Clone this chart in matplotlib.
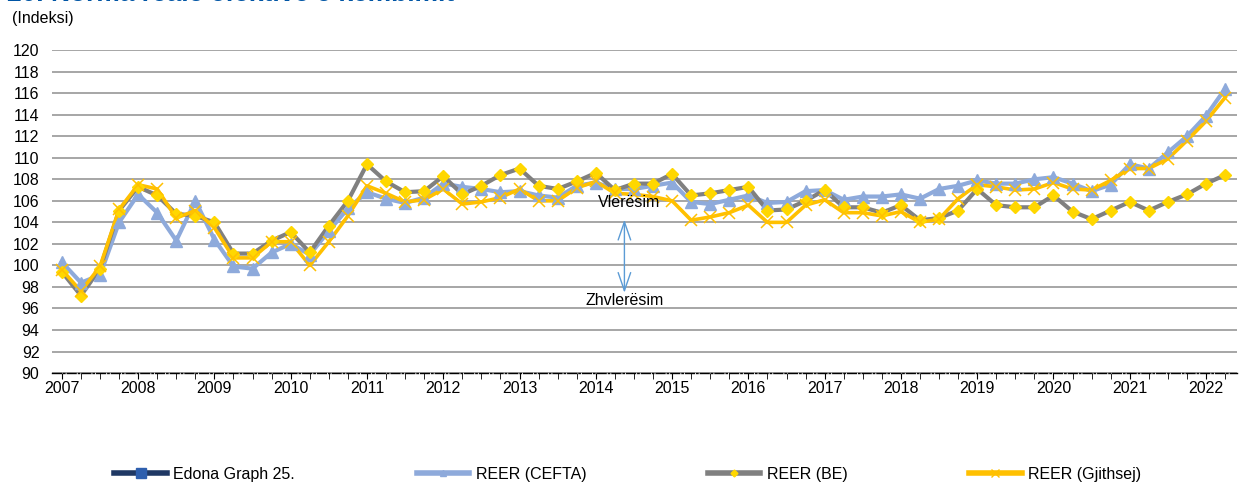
import matplotlib.pyplot as plt
from matplotlib.lines import Line2D

plt.rcParams['font.family'] = ['Liberation Sans', 'DejaVu Sans']

# tremujoret 2007T1 - 2022T2
vitet = [str(v) for v in range(2007, 2023)]

reer_cefta = [100.3, 98.4, 99.1, 104.0, 106.6, 104.9, 102.3, 106.0, 102.4, 99.9, 99.7, 101.2,
              102.0, 101.0, 103.2, 105.3, 106.8, 106.2, 105.8, 106.3, 107.6, 107.3, 107.1, 106.8,
              106.9, 106.5, 106.3, 107.4, 107.7, 107.1, 107.1, 107.4, 107.7, 105.9, 105.7, 106.1,
              106.5, 105.8, 105.9, 106.9, 107.0, 106.1, 106.4, 106.4, 106.6, 106.2, 107.1, 107.4,
              107.9, 107.6, 107.6, 108.0, 108.2, 107.6, 106.9, 107.5, 109.4, 109.0, 110.5, 112.0,
              113.9, 116.4]
reer_be = [99.4, 97.2, 99.7, 105.1, 107.3, 106.5, 104.8, 104.6, 104.0, 101.1, 101.1, 102.3,
           103.1, 101.2, 103.7, 106.0, 109.4, 107.8, 106.8, 106.9, 108.3, 106.6, 107.4, 108.4,
           109.0, 107.4, 107.1, 107.8, 108.6, 107.0, 107.6, 107.6, 108.5, 106.5, 106.7, 107.0,
           107.3, 105.1, 105.2, 106.0, 107.0, 105.4, 105.4, 104.9, 105.6, 104.2, 104.4, 105.1,
           107.1, 105.6, 105.4, 105.4, 106.5, 105.0, 104.3, 105.1, 105.9, 105.1, 105.9, 106.6,
           107.6, 108.4]
reer_gjithsej = [99.6, 97.6, 99.9, 105.2, 107.5, 107.1, 104.4, 105.1, 103.5, 100.7, 100.7, 102.2,
                 102.2, 100.0, 102.2, 104.6, 107.4, 106.7, 105.9, 106.1, 107.1, 105.7, 105.9, 106.3,
                 107.1, 106.0, 106.0, 107.2, 107.8, 106.7, 106.6, 106.4, 106.0, 104.2, 104.5, 104.9,
                 105.6, 104.0, 104.0, 105.6, 106.1, 104.9, 104.9, 104.6, 105.0, 104.0, 104.3, 106.2,
                 107.5, 107.3, 107.0, 107.1, 107.7, 107.1, 107.0, 107.9, 109.0, 109.0, 109.9, 111.6,
                 113.4, 115.6]

x = list(range(len(reer_cefta)))

fig = plt.figure(figsize=(12.43, 4.87), dpi=100)
ax = fig.add_axes([0.0418, 0.234, 0.953, 0.663])

# vijat
ax.plot(x, reer_cefta, color='#8eaadb', lw=3, zorder=2)
ax.plot(x, reer_be, color='#808080', lw=3, zorder=2)
ax.plot(x, reer_gjithsej, color='#ffc000', lw=2.6, zorder=2)
# shenjat
ax.plot(x, reer_cefta, ls='none', marker='^', ms=8, color='#8eaadb', zorder=3)
ax.plot(x, reer_be, ls='none', marker='D', ms=6.5, color='#ffd700', zorder=3)
ax.plot(x, reer_gjithsej, ls='none', marker='x', ms=8.5, mew=1.1, color='#ffc000', zorder=3)

ax.set_ylim(90, 120)
ax.set_xlim(-0.52, 61.6)
ax.set_yticks(range(90, 121, 2))
ax.set_xticks(range(0, len(x), 4))
ax.set_xticklabels(vitet)
ax.set_xticks(x, minor=True)
ax.grid(axis='y', color='#a6a6a6', lw=1.4)
ax.set_axisbelow(True)
for s in ['left', 'right', 'top']:
    ax.spines[s].set_visible(False)
ax.spines['bottom'].set_linestyle('-.')
ax.spines['bottom'].set_linewidth(1)
ax.tick_params(axis='y', length=0, labelsize=11.5, pad=9)
ax.tick_params(axis='x', which='both', length=4, labelsize=11.5, pad=2)

# shigjeta
ax.annotate('', xy=(29.5, 104.5), xytext=(29.5, 97.2),
            arrowprops=dict(arrowstyle='<->,head_length=1.3,head_width=0.45', color='#5b9bd5', lw=1))
ax.text(29.75, 105.8, 'Vlerësim', ha='center', va='center', fontsize=11.5)
ax.text(29.5, 96.7, 'Zhvlerësim', ha='center', va='center', fontsize=11.5)

fig.text(0.006, 1 - 1 / 487, '20. Norma reale efektive e këmbimit', fontsize=19, fontweight='bold',
         color='#0055a5', va='baseline')
fig.text(0.010, 1 - 18 / 487, '(Indeksi)', fontsize=11.5, va='center')

handles = [
    Line2D([], [], color='#1f3864', lw=4, marker='s', ms=7, mfc='#2e5fae', mec='#2e5fae'),
    Line2D([], [], color='#8eaadb', lw=4, marker='^', ms=4, mfc='#8eaadb', mec='#8eaadb'),
    Line2D([], [], color='#808080', lw=4, marker='D', ms=3.5, mfc='#ffd700', mec='#ffd700'),
    Line2D([], [], color='#ffc000', lw=4, marker='x', ms=6, mec='#ffc000'),
]
labels = ['Edona Graph 25.', 'REER (CEFTA)', 'REER (BE)', 'REER (Gjithsej)']
fig.legend(handles, labels, loc='center', bbox_to_anchor=(0.505, 1 - 474 / 487), ncol=4, frameon=False,
           fontsize=11.5, handlelength=3.3, handletextpad=0.4, columnspacing=7.6)

fig.savefig('out.png', dpi=100)
